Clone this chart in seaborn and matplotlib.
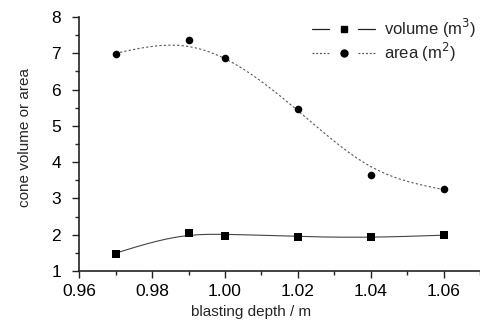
import numpy as np
import pandas as pd
import matplotlib
matplotlib.use("Agg")
import matplotlib.pyplot as plt
import seaborn as sns
from matplotlib.lines import Line2D
from matplotlib.legend_handler import HandlerBase
from matplotlib.ticker import MultipleLocator

depth = [0.97, 0.99, 1.00, 1.02, 1.04, 1.06]
volume = [1.48, 2.05, 1.97, 1.95, 1.93, 1.99]
area = [6.97, 7.35, 6.87, 5.47, 3.65, 3.27]
series_labels = ["volume (m$^3$)", "area (m$^2$)"]

sns.set_style("ticks")
plt.rcParams['font.family'] = ['Liberation Sans', 'DejaVu Sans']

df = pd.DataFrame({"depth": depth, "volume": volume, "area": area})


def smooth(x, y, lam, end_w=1.0, step=0.0005):
    """Penalised (smoothing-spline like) curve through the data."""
    x = np.asarray(x, float); y = np.asarray(y, float)
    n = int(round((x.max() - x.min()) / step)) + 1
    g = np.linspace(x.min(), x.max(), n)
    idx = np.round((x - x.min()) / step).astype(int)
    w = np.ones(len(x)); w[0] = w[-1] = end_w
    W = np.zeros((n, n)); b = np.zeros(n)
    W[idx, idx] = w; b[idx] = w * y
    D = np.diff(np.eye(n), 2, axis=0)
    A = W + (lam / step**3) * D.T @ D
    return g, np.linalg.solve(A, b)


fig = plt.figure(figsize=(4.8, 3.25), dpi=100)
ax = fig.add_axes([0.165, 0.166, 0.835, 0.782])

ga, fa = smooth(depth, area, 6.0e-7, end_w=4.0)
gv, fv = smooth(depth, volume, 2.5e-7, end_w=2.0)
cur = pd.DataFrame({"depth": ga, "area": fa, "volume": fv})

sns.lineplot(data=cur, x="depth", y="area", ax=ax, color="#555555", lw=0.8,
             linestyle=(0, (2, 2)))
sns.lineplot(data=cur, x="depth", y="volume", ax=ax, color="#444444", lw=0.8)
sns.scatterplot(data=df, x="depth", y="area", ax=ax, marker="o", s=30, color="black",
                edgecolor="black", linewidth=0, zorder=5)
sns.scatterplot(data=df, x="depth", y="volume", ax=ax, marker="s", s=26, color="black",
                edgecolor="black", linewidth=0, zorder=5)

ax.set_xlim(0.96, 1.07)
ax.set_ylim(1, 8)
ax.set_xticks([0.96, 0.98, 1.00, 1.02, 1.04, 1.06])
ax.set_xticklabels(["0.96", "0.98", "1.00", "1.02", "1.04", "1.06"])
ax.xaxis.set_minor_locator(MultipleLocator(0.01))
ax.yaxis.set_minor_locator(MultipleLocator(0.5))
ax.tick_params(which="major", length=5, width=1, labelsize=12.5, color="#222222",
               labelcolor="black")
ax.tick_params(axis="y", which="major", pad=8)
ax.tick_params(axis="x", which="major", pad=4)
ax.tick_params(which="minor", length=3, width=1, color="#222222")
for s in ["top", "right"]:
    ax.spines[s].set_visible(False)
for s in ["left", "bottom"]:
    ax.spines[s].set_linewidth(1.2)
    ax.spines[s].set_color("#222222")
ax.set_xlabel("blasting depth / m", fontsize=11)
ax.set_ylabel("cone volume or area", fontsize=11)
ax.xaxis.set_label_coords(0.43, -0.135)
ax.yaxis.set_label_coords(-0.117, 0.524)


class SegHandler(HandlerBase):
    def __init__(self, ls, marker, ms, color):
        super().__init__()
        self.ls, self.marker, self.ms, self.color = ls, marker, ms, color

    def create_artists(self, legend, orig, xd, yd, width, height, fontsize, trans):
        y = height / 2 - yd
        x0 = -xd
        seg = width * 0.27
        l1 = Line2D([x0, x0 + seg], [y, y], color=self.color, lw=0.9, ls=self.ls)
        l2 = Line2D([x0 + width - seg, x0 + width], [y, y], color=self.color, lw=0.9,
                    ls=self.ls)
        m = Line2D([x0 + width / 2], [y], marker=self.marker, ms=self.ms, color="black",
                   ls="none")
        for a in (l1, l2, m):
            a.set_transform(trans)
        return [l1, l2, m]


h1 = Line2D([], [], color="black")
h2 = Line2D([], [], color="black")
ax.legend([h1, h2], series_labels, loc="upper left", bbox_to_anchor=(0.581, 1.0),
          frameon=False, fontsize=12, handlelength=3.8, handletextpad=0.5,
          labelspacing=0.05, borderpad=0, borderaxespad=0,
          handler_map={h1: SegHandler("-", "s", 4.5, "#222222"),
                       h2: SegHandler((0, (1.5, 1.5)), "o", 5, "#555555")})

fig.savefig("out.png", dpi=100)
